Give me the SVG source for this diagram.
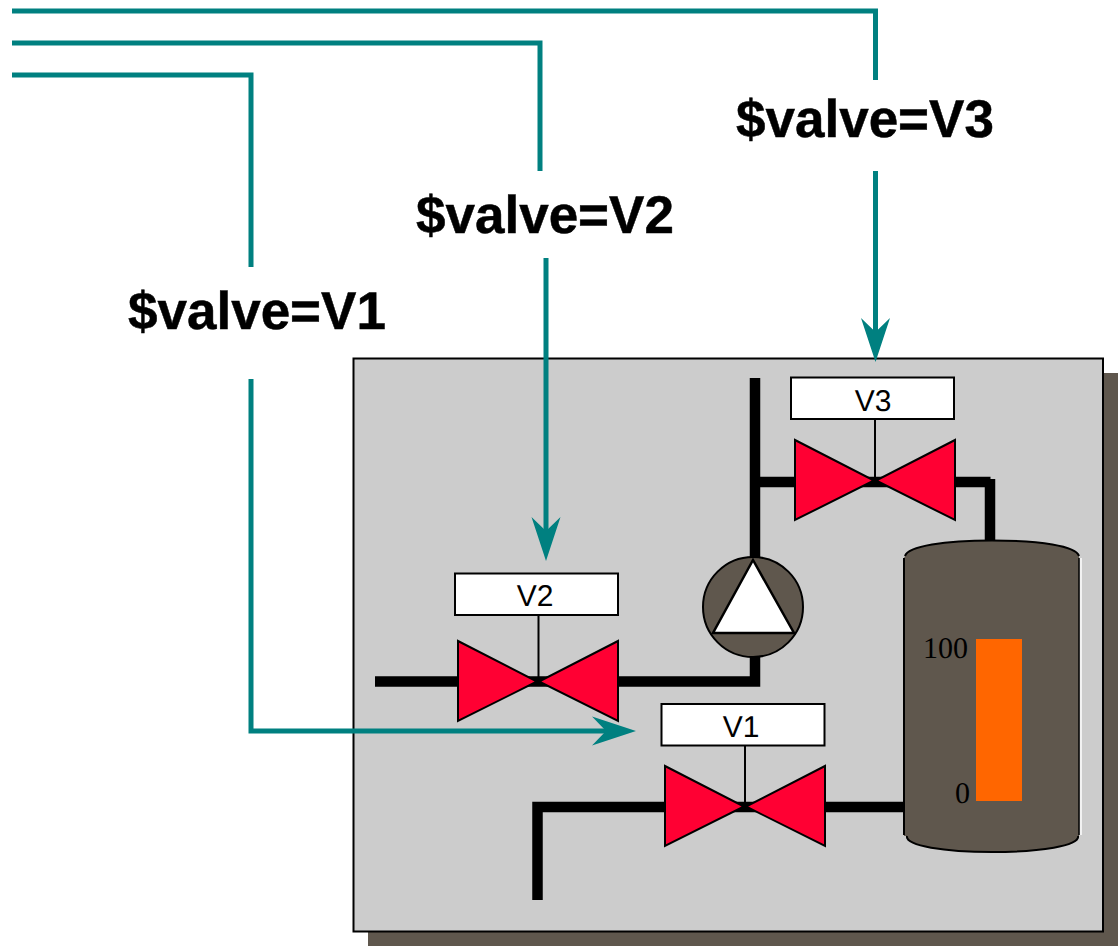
<svg xmlns="http://www.w3.org/2000/svg" width="1118" height="946" viewBox="0 0 1118 946">
<style>
text{text-rendering:geometricPrecision}
.pipe{fill:none;stroke:#000;stroke-width:10.500}
.wire{fill:none;stroke:#008080;stroke-width:5}
.valve{fill:#ff0033;stroke:#000;stroke-width:2;stroke-linejoin:miter}
.box{fill:#fff;stroke:#000;stroke-width:2}
.stem{stroke:#000;stroke-width:2}
.tag{font:30px "Liberation Sans",Arial,sans-serif;fill:#000;text-anchor:middle}
.big{font:bold 53px "Liberation Sans",Arial,sans-serif;fill:#000;stroke:#000;stroke-width:.5}
.scale{font:30px "Liberation Serif","Times New Roman",serif;fill:#000;text-anchor:end}
</style>
<defs>
<marker id="arrow" markerUnits="userSpaceOnUse" markerWidth="46" markerHeight="32" viewBox="0 -15 46 30" refX="14" refY="0" orient="auto" overflow="visible">
<path d="M0,-14.500L44,0L0,14.500L14,0Z" fill="#008080"/>
</marker>
<g id="valve-shape">
<path class="valve" d="M-80,-40V40L-1,0.500ZM80,-40V40L1,0.500Z"/>
</g>
</defs>
<rect width="1118" height="946" fill="#fff"/>
<g id="panel">
<rect x="368" y="373" width="750" height="573" fill="#5f574d"/>
<rect x="353.500" y="358.500" width="749.500" height="573" fill="#ccc" stroke="#000" stroke-width="2"/>
</g>
<g id="pipes">
<path class="pipe" d="M755,378V560M755,655V681.500H375M755,482H990.500M990,479V542"/>
<path class="pipe" d="M745,807H537.500V900M745,807H906"/>
</g>
<g id="tank">
<path d="M905,556C908,546 945,540.500 992,540.500C1040,540.500 1076,546 1079,556L1079,836C1080,846 1040,852 992,852C945,852 905,846 906,836H904V558Z" fill="#5f574d"/>
<path d="M905,556C908,546 945,540.500 992,540.500C1040,540.500 1076,546 1079,556M907,836C905,846 945,852 992,852C1040,852 1080,846 1078,836M904,558V835" fill="none" stroke="#000" stroke-width="2"/>
<path d="M1079,558V835" stroke="#000" stroke-width="1.500"/>
<path d="M1081,558V835" stroke="#fff" stroke-width="1.500"/>
<rect x="976" y="639" width="46" height="162" fill="#ff6600"/>
<text class="scale" x="968" y="657.500">100</text>
<text class="scale" x="970" y="803">0</text>
</g>
<g id="pump">
<circle cx="753" cy="607" r="50" fill="#5f574d" stroke="#000" stroke-width="2"/>
<path d="M753,560L794,633H713Z" fill="#fff" stroke="#000" stroke-width="2.500"/>
</g>
<g id="valve-v3">
<use href="#valve-shape" x="875" y="480"/>
<path class="stem" d="M875,419V480"/>
<rect class="box" x="791" y="377.500" width="163" height="41.500"/>
<text class="tag" x="873" y="410.500">V3</text>
</g>
<g id="valve-v2">
<use href="#valve-shape" x="538" y="681"/>
<path class="stem" d="M538.500,615V681"/>
<rect class="box" x="455" y="573.500" width="163" height="41.500"/>
<text class="tag" x="535" y="606">V2</text>
</g>
<g id="valve-v1">
<use href="#valve-shape" x="745" y="806"/>
<path class="stem" d="M745,746V806"/>
<rect class="box" x="661.500" y="704" width="163" height="41.500"/>
<text class="tag" x="741" y="737">V1</text>
</g>
<g id="connectors">
<path class="wire" d="M12,11H875.500V80"/>
<path class="wire" d="M875.500,171V332" marker-end="url(#arrow)"/>
<path class="wire" d="M12,43H540V171"/>
<path class="wire" d="M546,258V531" marker-end="url(#arrow)"/>
<path class="wire" d="M12,75H251V267"/>
<path class="wire" d="M251,379V731H606" marker-end="url(#arrow)"/>
</g>
<g id="labels">
<text class="big" x="736" y="137">$valve=V3</text>
<text class="big" x="416" y="233">$valve=V2</text>
<text class="big" x="128" y="329">$valve=V1</text>
</g>
</svg>
